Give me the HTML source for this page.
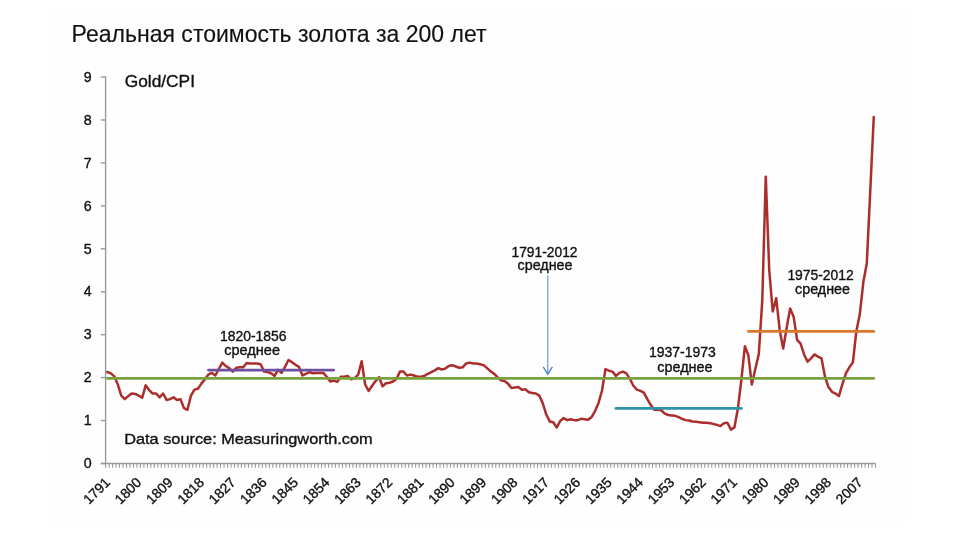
<!DOCTYPE html><html><head><meta charset="utf-8"><style>html,body{margin:0;padding:0;background:#fff;}svg{display:block;will-change:transform;}</style></head><body>
<svg width="960" height="540" viewBox="0 0 960 540" font-family='"Liberation Sans", sans-serif'>
<rect x="0" y="0" width="960" height="540" fill="#ffffff"/>
<rect x="52" y="7" width="855" height="519" fill="#fefefe"/>
<text x="71.6" y="42" font-size="23.6" fill="#111" stroke="#111" stroke-width="0.15" textLength="415" lengthAdjust="spacingAndGlyphs">Реальная стоимость золота за 200 лет</text>
<line x1="105.6" y1="76.34" x2="105.6" y2="463.5" stroke="#9a9a9a" stroke-width="1.4"/>
<line x1="100.8" y1="463.5" x2="875.5" y2="463.5" stroke="#9a9a9a" stroke-width="1.4"/>
<line x1="100.8" y1="463.50" x2="105.6" y2="463.50" stroke="#9a9a9a" stroke-width="1.4"/>
<line x1="100.8" y1="420.56" x2="105.6" y2="420.56" stroke="#9a9a9a" stroke-width="1.4"/>
<line x1="100.8" y1="377.62" x2="105.6" y2="377.62" stroke="#9a9a9a" stroke-width="1.4"/>
<line x1="100.8" y1="334.68" x2="105.6" y2="334.68" stroke="#9a9a9a" stroke-width="1.4"/>
<line x1="100.8" y1="291.74" x2="105.6" y2="291.74" stroke="#9a9a9a" stroke-width="1.4"/>
<line x1="100.8" y1="248.80" x2="105.6" y2="248.80" stroke="#9a9a9a" stroke-width="1.4"/>
<line x1="100.8" y1="205.86" x2="105.6" y2="205.86" stroke="#9a9a9a" stroke-width="1.4"/>
<line x1="100.8" y1="162.92" x2="105.6" y2="162.92" stroke="#9a9a9a" stroke-width="1.4"/>
<line x1="100.8" y1="119.98" x2="105.6" y2="119.98" stroke="#9a9a9a" stroke-width="1.4"/>
<line x1="100.8" y1="77.04" x2="105.6" y2="77.04" stroke="#9a9a9a" stroke-width="1.4"/>
<path d="M105.60 463.5V467.8M109.08 463.5V467.8M112.57 463.5V467.8M116.05 463.5V467.8M119.53 463.5V467.8M123.02 463.5V467.8M126.50 463.5V467.8M129.99 463.5V467.8M133.47 463.5V467.8M136.95 463.5V467.8M140.44 463.5V467.8M143.92 463.5V467.8M147.40 463.5V467.8M150.89 463.5V467.8M154.37 463.5V467.8M157.86 463.5V467.8M161.34 463.5V467.8M164.82 463.5V467.8M168.31 463.5V467.8M171.79 463.5V467.8M175.27 463.5V467.8M178.76 463.5V467.8M182.24 463.5V467.8M185.73 463.5V467.8M189.21 463.5V467.8M192.69 463.5V467.8M196.18 463.5V467.8M199.66 463.5V467.8M203.14 463.5V467.8M206.63 463.5V467.8M210.11 463.5V467.8M213.60 463.5V467.8M217.08 463.5V467.8M220.56 463.5V467.8M224.05 463.5V467.8M227.53 463.5V467.8M231.01 463.5V467.8M234.50 463.5V467.8M237.98 463.5V467.8M241.46 463.5V467.8M244.95 463.5V467.8M248.43 463.5V467.8M251.92 463.5V467.8M255.40 463.5V467.8M258.88 463.5V467.8M262.37 463.5V467.8M265.85 463.5V467.8M269.33 463.5V467.8M272.82 463.5V467.8M276.30 463.5V467.8M279.79 463.5V467.8M283.27 463.5V467.8M286.75 463.5V467.8M290.24 463.5V467.8M293.72 463.5V467.8M297.20 463.5V467.8M300.69 463.5V467.8M304.17 463.5V467.8M307.66 463.5V467.8M311.14 463.5V467.8M314.62 463.5V467.8M318.11 463.5V467.8M321.59 463.5V467.8M325.07 463.5V467.8M328.56 463.5V467.8M332.04 463.5V467.8M335.52 463.5V467.8M339.01 463.5V467.8M342.49 463.5V467.8M345.98 463.5V467.8M349.46 463.5V467.8M352.94 463.5V467.8M356.43 463.5V467.8M359.91 463.5V467.8M363.39 463.5V467.8M366.88 463.5V467.8M370.36 463.5V467.8M373.85 463.5V467.8M377.33 463.5V467.8M380.81 463.5V467.8M384.30 463.5V467.8M387.78 463.5V467.8M391.26 463.5V467.8M394.75 463.5V467.8M398.23 463.5V467.8M401.72 463.5V467.8M405.20 463.5V467.8M408.68 463.5V467.8M412.17 463.5V467.8M415.65 463.5V467.8M419.13 463.5V467.8M422.62 463.5V467.8M426.10 463.5V467.8M429.59 463.5V467.8M433.07 463.5V467.8M436.55 463.5V467.8M440.04 463.5V467.8M443.52 463.5V467.8M447.00 463.5V467.8M450.49 463.5V467.8M453.97 463.5V467.8M457.45 463.5V467.8M460.94 463.5V467.8M464.42 463.5V467.8M467.91 463.5V467.8M471.39 463.5V467.8M474.87 463.5V467.8M478.36 463.5V467.8M481.84 463.5V467.8M485.32 463.5V467.8M488.81 463.5V467.8M492.29 463.5V467.8M495.78 463.5V467.8M499.26 463.5V467.8M502.74 463.5V467.8M506.23 463.5V467.8M509.71 463.5V467.8M513.19 463.5V467.8M516.68 463.5V467.8M520.16 463.5V467.8M523.65 463.5V467.8M527.13 463.5V467.8M530.61 463.5V467.8M534.10 463.5V467.8M537.58 463.5V467.8M541.06 463.5V467.8M544.55 463.5V467.8M548.03 463.5V467.8M551.51 463.5V467.8M555.00 463.5V467.8M558.48 463.5V467.8M561.97 463.5V467.8M565.45 463.5V467.8M568.93 463.5V467.8M572.42 463.5V467.8M575.90 463.5V467.8M579.38 463.5V467.8M582.87 463.5V467.8M586.35 463.5V467.8M589.84 463.5V467.8M593.32 463.5V467.8M596.80 463.5V467.8M600.29 463.5V467.8M603.77 463.5V467.8M607.25 463.5V467.8M610.74 463.5V467.8M614.22 463.5V467.8M617.71 463.5V467.8M621.19 463.5V467.8M624.67 463.5V467.8M628.16 463.5V467.8M631.64 463.5V467.8M635.12 463.5V467.8M638.61 463.5V467.8M642.09 463.5V467.8M645.58 463.5V467.8M649.06 463.5V467.8M652.54 463.5V467.8M656.03 463.5V467.8M659.51 463.5V467.8M662.99 463.5V467.8M666.48 463.5V467.8M669.96 463.5V467.8M673.44 463.5V467.8M676.93 463.5V467.8M680.41 463.5V467.8M683.90 463.5V467.8M687.38 463.5V467.8M690.86 463.5V467.8M694.35 463.5V467.8M697.83 463.5V467.8M701.31 463.5V467.8M704.80 463.5V467.8M708.28 463.5V467.8M711.77 463.5V467.8M715.25 463.5V467.8M718.73 463.5V467.8M722.22 463.5V467.8M725.70 463.5V467.8M729.18 463.5V467.8M732.67 463.5V467.8M736.15 463.5V467.8M739.64 463.5V467.8M743.12 463.5V467.8M746.60 463.5V467.8M750.09 463.5V467.8M753.57 463.5V467.8M757.05 463.5V467.8M760.54 463.5V467.8M764.02 463.5V467.8M767.50 463.5V467.8M770.99 463.5V467.8M774.47 463.5V467.8M777.96 463.5V467.8M781.44 463.5V467.8M784.92 463.5V467.8M788.41 463.5V467.8M791.89 463.5V467.8M795.37 463.5V467.8M798.86 463.5V467.8M802.34 463.5V467.8M805.83 463.5V467.8M809.31 463.5V467.8M812.79 463.5V467.8M816.28 463.5V467.8M819.76 463.5V467.8M823.24 463.5V467.8M826.73 463.5V467.8M830.21 463.5V467.8M833.70 463.5V467.8M837.18 463.5V467.8M840.66 463.5V467.8M844.15 463.5V467.8M847.63 463.5V467.8M851.11 463.5V467.8M854.60 463.5V467.8M858.08 463.5V467.8M861.57 463.5V467.8M865.05 463.5V467.8M868.53 463.5V467.8M872.02 463.5V467.8M875.50 463.5V467.8" stroke="#9a9a9a" stroke-width="1.1" fill="none"/>
<text x="91.6" y="468.20" font-size="14.2" text-anchor="end" fill="#111" stroke="#111" stroke-width="0.35">0</text>
<text x="91.6" y="425.26" font-size="14.2" text-anchor="end" fill="#111" stroke="#111" stroke-width="0.35">1</text>
<text x="91.6" y="382.32" font-size="14.2" text-anchor="end" fill="#111" stroke="#111" stroke-width="0.35">2</text>
<text x="91.6" y="339.38" font-size="14.2" text-anchor="end" fill="#111" stroke="#111" stroke-width="0.35">3</text>
<text x="91.6" y="296.44" font-size="14.2" text-anchor="end" fill="#111" stroke="#111" stroke-width="0.35">4</text>
<text x="91.6" y="253.50" font-size="14.2" text-anchor="end" fill="#111" stroke="#111" stroke-width="0.35">5</text>
<text x="91.6" y="210.56" font-size="14.2" text-anchor="end" fill="#111" stroke="#111" stroke-width="0.35">6</text>
<text x="91.6" y="167.62" font-size="14.2" text-anchor="end" fill="#111" stroke="#111" stroke-width="0.35">7</text>
<text x="91.6" y="124.68" font-size="14.2" text-anchor="end" fill="#111" stroke="#111" stroke-width="0.35">8</text>
<text x="91.6" y="81.74" font-size="14.2" text-anchor="end" fill="#111" stroke="#111" stroke-width="0.35">9</text>
<text x="0" y="0" font-size="13.9" text-anchor="end" fill="#111" stroke="#111" stroke-width="0.35" transform="translate(110.94,483.20) rotate(-45)">1791</text>
<text x="0" y="0" font-size="13.9" text-anchor="end" fill="#111" stroke="#111" stroke-width="0.35" transform="translate(142.30,483.20) rotate(-45)">1800</text>
<text x="0" y="0" font-size="13.9" text-anchor="end" fill="#111" stroke="#111" stroke-width="0.35" transform="translate(173.65,483.20) rotate(-45)">1809</text>
<text x="0" y="0" font-size="13.9" text-anchor="end" fill="#111" stroke="#111" stroke-width="0.35" transform="translate(205.00,483.20) rotate(-45)">1818</text>
<text x="0" y="0" font-size="13.9" text-anchor="end" fill="#111" stroke="#111" stroke-width="0.35" transform="translate(236.36,483.20) rotate(-45)">1827</text>
<text x="0" y="0" font-size="13.9" text-anchor="end" fill="#111" stroke="#111" stroke-width="0.35" transform="translate(267.71,483.20) rotate(-45)">1836</text>
<text x="0" y="0" font-size="13.9" text-anchor="end" fill="#111" stroke="#111" stroke-width="0.35" transform="translate(299.06,483.20) rotate(-45)">1845</text>
<text x="0" y="0" font-size="13.9" text-anchor="end" fill="#111" stroke="#111" stroke-width="0.35" transform="translate(330.42,483.20) rotate(-45)">1854</text>
<text x="0" y="0" font-size="13.9" text-anchor="end" fill="#111" stroke="#111" stroke-width="0.35" transform="translate(361.77,483.20) rotate(-45)">1863</text>
<text x="0" y="0" font-size="13.9" text-anchor="end" fill="#111" stroke="#111" stroke-width="0.35" transform="translate(393.12,483.20) rotate(-45)">1872</text>
<text x="0" y="0" font-size="13.9" text-anchor="end" fill="#111" stroke="#111" stroke-width="0.35" transform="translate(424.48,483.20) rotate(-45)">1881</text>
<text x="0" y="0" font-size="13.9" text-anchor="end" fill="#111" stroke="#111" stroke-width="0.35" transform="translate(455.83,483.20) rotate(-45)">1890</text>
<text x="0" y="0" font-size="13.9" text-anchor="end" fill="#111" stroke="#111" stroke-width="0.35" transform="translate(487.18,483.20) rotate(-45)">1899</text>
<text x="0" y="0" font-size="13.9" text-anchor="end" fill="#111" stroke="#111" stroke-width="0.35" transform="translate(518.54,483.20) rotate(-45)">1908</text>
<text x="0" y="0" font-size="13.9" text-anchor="end" fill="#111" stroke="#111" stroke-width="0.35" transform="translate(549.89,483.20) rotate(-45)">1917</text>
<text x="0" y="0" font-size="13.9" text-anchor="end" fill="#111" stroke="#111" stroke-width="0.35" transform="translate(581.24,483.20) rotate(-45)">1926</text>
<text x="0" y="0" font-size="13.9" text-anchor="end" fill="#111" stroke="#111" stroke-width="0.35" transform="translate(612.60,483.20) rotate(-45)">1935</text>
<text x="0" y="0" font-size="13.9" text-anchor="end" fill="#111" stroke="#111" stroke-width="0.35" transform="translate(643.95,483.20) rotate(-45)">1944</text>
<text x="0" y="0" font-size="13.9" text-anchor="end" fill="#111" stroke="#111" stroke-width="0.35" transform="translate(675.30,483.20) rotate(-45)">1953</text>
<text x="0" y="0" font-size="13.9" text-anchor="end" fill="#111" stroke="#111" stroke-width="0.35" transform="translate(706.66,483.20) rotate(-45)">1962</text>
<text x="0" y="0" font-size="13.9" text-anchor="end" fill="#111" stroke="#111" stroke-width="0.35" transform="translate(738.01,483.20) rotate(-45)">1971</text>
<text x="0" y="0" font-size="13.9" text-anchor="end" fill="#111" stroke="#111" stroke-width="0.35" transform="translate(769.36,483.20) rotate(-45)">1980</text>
<text x="0" y="0" font-size="13.9" text-anchor="end" fill="#111" stroke="#111" stroke-width="0.35" transform="translate(800.72,483.20) rotate(-45)">1989</text>
<text x="0" y="0" font-size="13.9" text-anchor="end" fill="#111" stroke="#111" stroke-width="0.35" transform="translate(832.07,483.20) rotate(-45)">1998</text>
<text x="0" y="0" font-size="13.9" text-anchor="end" fill="#111" stroke="#111" stroke-width="0.35" transform="translate(863.42,483.20) rotate(-45)">2007</text>
<polyline points="107.34,372.04 110.83,373.33 114.31,376.33 117.79,384.49 121.28,395.65 124.76,399.09 128.24,396.08 131.73,393.51 135.21,393.94 138.70,395.65 142.18,397.80 145.66,385.35 149.15,390.07 152.63,393.51 156.11,393.51 159.60,397.37 163.08,393.51 166.56,399.95 170.05,399.09 173.53,397.37 177.02,399.95 180.50,399.09 183.98,408.11 187.47,409.82 190.95,395.65 194.43,389.64 197.92,388.78 201.40,383.63 204.89,379.34 208.37,374.61 211.85,372.90 215.34,375.47 218.82,369.03 222.30,362.59 225.79,366.03 229.27,368.17 232.76,371.61 236.24,367.74 239.72,367.31 243.21,367.31 246.69,363.02 250.17,363.45 253.66,363.45 257.14,363.45 260.63,364.31 264.11,371.61 267.59,372.04 271.08,373.33 274.56,375.90 278.04,369.89 281.53,372.90 285.01,366.88 288.49,360.01 291.98,362.16 295.46,364.74 298.95,366.88 302.43,375.47 305.91,373.76 309.40,372.04 312.88,373.33 316.36,372.90 319.85,372.90 323.33,372.90 326.82,376.76 330.30,381.48 333.78,380.63 337.27,381.91 340.75,376.76 344.23,376.76 347.72,375.90 351.20,379.34 354.69,378.05 358.17,374.61 361.65,361.30 365.14,384.49 368.62,390.93 372.10,385.78 375.59,381.06 379.07,377.19 382.55,386.21 386.04,383.20 389.52,382.77 393.01,381.48 396.49,378.91 399.97,371.61 403.46,371.61 406.94,375.47 410.42,374.61 413.91,375.47 417.39,376.76 420.88,376.76 424.36,375.90 427.84,373.76 431.33,372.04 434.81,370.32 438.29,368.17 441.78,369.46 445.26,368.60 448.75,366.03 452.23,365.17 455.71,366.46 459.20,367.74 462.68,367.31 466.16,363.45 469.65,362.59 473.13,363.45 476.62,363.45 480.10,364.31 483.58,365.17 487.07,368.17 490.55,371.18 494.03,373.76 497.52,377.19 501.00,380.20 504.48,381.06 507.97,383.63 511.45,387.93 514.94,387.50 518.42,387.07 521.90,389.64 525.39,389.21 528.87,392.22 532.35,393.08 535.84,393.51 539.32,395.65 542.81,403.38 546.29,414.55 549.77,421.42 553.26,422.28 556.74,427.43 560.22,420.99 563.71,417.98 567.19,420.13 570.68,419.27 574.16,420.13 577.64,420.13 581.13,418.84 584.61,419.27 588.09,419.70 591.58,417.12 595.06,411.11 598.55,402.95 602.03,390.50 605.51,369.03 609.00,370.75 612.48,371.61 615.96,375.90 619.45,372.90 622.93,371.61 626.41,373.33 629.90,378.91 633.38,385.78 636.87,389.64 640.35,390.93 643.83,392.65 647.32,399.09 650.80,405.10 654.28,409.82 657.77,409.82 661.25,410.25 664.74,413.69 668.22,414.98 671.70,415.41 675.19,415.84 678.67,417.12 682.15,418.84 685.64,420.13 689.12,420.56 692.61,421.42 696.09,421.85 699.57,422.28 703.06,422.71 706.54,422.71 710.02,423.14 713.51,424.00 716.99,424.85 720.47,426.14 723.96,423.14 727.44,422.71 730.93,429.58 734.41,427.43 737.89,408.54 741.38,379.77 744.86,346.27 748.34,355.29 751.83,384.49 755.31,369.03 758.80,354.00 762.28,300.33 765.76,176.66 769.25,270.27 772.73,311.49 776.21,298.18 779.70,329.96 783.18,348.42 786.67,327.81 790.15,308.49 793.63,316.65 797.12,339.83 800.60,343.70 804.08,354.43 807.57,361.73 811.05,358.30 814.54,354.43 818.02,356.58 821.50,358.30 824.99,376.76 828.47,387.07 831.95,391.79 835.44,393.51 838.92,396.08 842.40,384.06 845.89,373.33 849.37,367.31 852.86,362.59 856.34,331.24 859.82,314.07 863.31,282.29 866.79,263.40 870.27,190.83 873.76,116.97" fill="none" stroke="#ab2e2c" stroke-width="2.5" stroke-linejoin="round" stroke-linecap="round"/>
<line x1="107.34" y1="378.31" x2="873.76" y2="378.31" stroke="#7aa23c" stroke-width="2.8" stroke-linecap="round"/>
<line x1="208.37" y1="370.11" x2="333.78" y2="370.11" stroke="#6f50a0" stroke-width="2.6" stroke-linecap="round"/>
<line x1="615.96" y1="408.41" x2="741.38" y2="408.41" stroke="#2e92ab" stroke-width="2.8" stroke-linecap="round"/>
<line x1="748.34" y1="331.42" x2="873.76" y2="331.42" stroke="#dc782a" stroke-width="2.8" stroke-linecap="round"/>
<line x1="547.8" y1="275.5" x2="547.8" y2="373.5" stroke="#4f82c6" stroke-width="1"/>
<polyline points="543.2,366.8 547.8,374.2 552.4,366.8" fill="none" stroke="#4f82c6" stroke-width="1.3"/>
<text x="124.7" y="87" font-size="16.8" fill="#111" stroke="#111" stroke-width="0.35" textLength="70.3" lengthAdjust="spacingAndGlyphs">Gold/CPI</text>
<text x="124.2" y="443.8" font-size="15.1" fill="#111" stroke="#111" stroke-width="0.35" textLength="248.4" lengthAdjust="spacingAndGlyphs">Data source: Measuringworth.com</text>
<text x="220" y="341.1" font-size="14.1" fill="#111" stroke="#111" stroke-width="0.35" textLength="66.5" lengthAdjust="spacingAndGlyphs">1820-1856</text>
<text x="224.2" y="355" font-size="14.1" fill="#111" stroke="#111" stroke-width="0.35" textLength="55.8" lengthAdjust="spacingAndGlyphs">среднее</text>
<text x="511.5" y="256.9" font-size="13.9" fill="#111" stroke="#111" stroke-width="0.35" textLength="66" lengthAdjust="spacingAndGlyphs">1791-2012</text>
<text x="517.5" y="270" font-size="13.9" fill="#111" stroke="#111" stroke-width="0.35" textLength="55" lengthAdjust="spacingAndGlyphs">среднее</text>
<text x="648.9" y="356.6" font-size="13.9" fill="#111" stroke="#111" stroke-width="0.35" textLength="66.9" lengthAdjust="spacingAndGlyphs">1937-1973</text>
<text x="657.3" y="371.6" font-size="13.9" fill="#111" stroke="#111" stroke-width="0.35" textLength="55.3" lengthAdjust="spacingAndGlyphs">среднее</text>
<text x="787.4" y="279.9" font-size="13.9" fill="#111" stroke="#111" stroke-width="0.35" textLength="66.3" lengthAdjust="spacingAndGlyphs">1975-2012</text>
<text x="795.1" y="294.2" font-size="13.9" fill="#111" stroke="#111" stroke-width="0.35" textLength="54.9" lengthAdjust="spacingAndGlyphs">среднее</text>
</svg></body></html>
